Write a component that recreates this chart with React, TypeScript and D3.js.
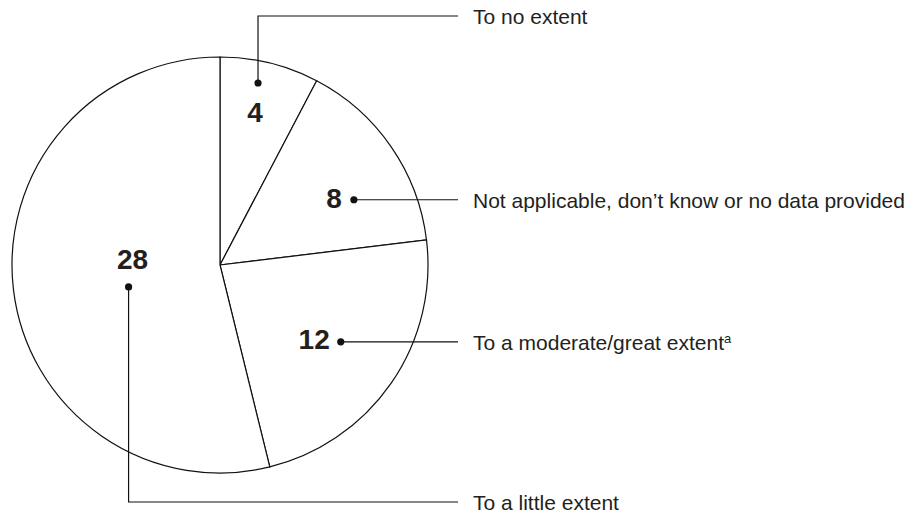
import * as d3 from "d3";
import React, { useRef, useEffect } from "react";

// slices clockwise from 12 o'clock
const categories = [
  "To no extent",
  "Not applicable, don\u2019t know or no data provided",
  "To a moderate/great extent",
  "To a little extent",
];
const counts = [4, 8, 12, 28];
const footnotes = ["", "", "a", ""];

// callout layout: where inside the slice the dot sits (t = share of slice angle, f = share of radius)
const dotPos = [
  { t: 0.426, f: 0.894 },
  { t: 0.656, f: 0.716 },
  { t: 0.474, f: 0.688 },
  { t: 0.466, f: 0.452 },
];
// number label offset from its dot
const numPos = [
  { dx: -3, dy: 39, anchor: "middle" },
  { dx: -12, dy: 8, anchor: "end" },
  { dx: -11, dy: 7, anchor: "end" },
  { dx: 4, dy: -18, anchor: "middle" },
];
// leader elbows: y of the horizontal run (null = straight from dot)
const elbowY = [16, null, null, 502];

const W = 922;
const H = 515;
const cx = 220;
const cy = 265;
const R = 208;
const lineEnd = 458;
const textX = 473;
const ink = "#231f20";

function PieChart() {
  const ref = useRef<SVGSVGElement>(null);

  useEffect(() => {
    const svg = d3.select(ref.current);
    svg.selectAll("*").remove();

    const pie = d3.pie<number>().sort(null).value((d) => d);
    const arcs = pie(counts);
    const arc = d3.arc<d3.PieArcDatum<number>>().innerRadius(0).outerRadius(R);

    const g = svg.append("g").attr("transform", `translate(${cx},${cy})`);

    g.selectAll("path")
      .data(arcs)
      .enter()
      .append("path")
      .attr("d", arc)
      .attr("fill", "#fff")
      .attr("stroke", "#111")
      .attr("stroke-width", 1.2);

    const polar = (a: number, r: number) => [cx + r * Math.sin(a), cy - r * Math.cos(a)];

    arcs.forEach((d, i) => {
      const a = d.startAngle + dotPos[i].t * (d.endAngle - d.startAngle);
      const [px, py] = polar(a, dotPos[i].f * R);

      let path;
      let ly;
      if (elbowY[i] !== null) {
        ly = elbowY[i] as number;
        path = `M${px},${py}V${ly}H${lineEnd}`;
      } else {
        ly = py;
        path = `M${px},${py}H${lineEnd}`;
      }
      svg.append("path")
        .attr("d", path)
        .attr("fill", "none")
        .attr("stroke", "#111")
        .attr("stroke-width", 1.2);

      svg.append("circle")
        .attr("cx", px)
        .attr("cy", py)
        .attr("r", 3.6)
        .attr("fill", "#111");

      svg.append("text")
        .attr("x", px + numPos[i].dx)
        .attr("y", py + numPos[i].dy)
        .attr("text-anchor", numPos[i].anchor)
        .attr("font-family", "Liberation Sans, Arial, sans-serif")
        .attr("font-weight", "bold")
        .attr("font-size", 28)
        .attr("fill", ink)
        .text(counts[i]);

      const t = svg.append("text")
        .attr("x", textX)
        .attr("y", ly + 8)
        .attr("font-family", "Liberation Sans, Arial, sans-serif")
        .attr("font-size", 21)
        .attr("fill", ink)
        .text(categories[i]);
      if (footnotes[i]) {
        t.append("tspan")
          .attr("font-size", 13)
          .attr("dy", -7)
          .text(footnotes[i]);
      }
    });
  }, []);

  return (
    <svg
      ref={ref}
      width={W}
      height={H}
      style={{ position: "absolute", left: 0, top: 0, background: "#fff" }}
    />
  );
}

export default function App() {
  return <PieChart />;
}
